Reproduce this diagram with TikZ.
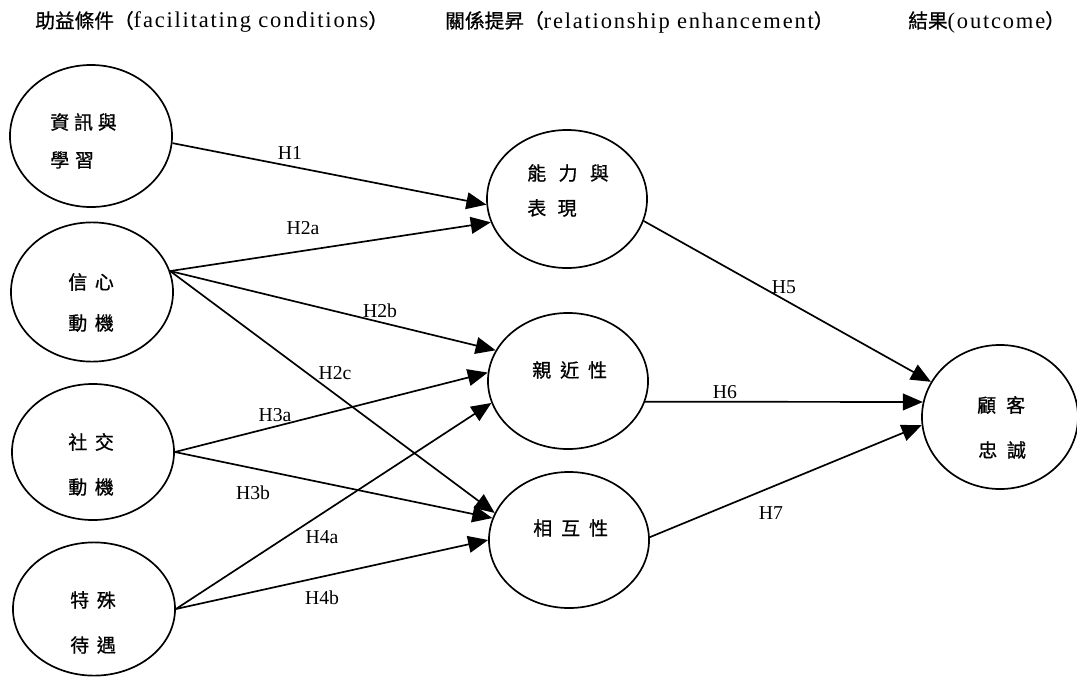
\documentclass[tikz,border=0pt]{standalone}
\usepackage{fontspec}
\setmainfont{Liberation Serif}
\newfontfamily\cjk{Noto Sans CJK TC}[FakeBold=0.8]
\newfontfamily\cjkw{Noto Sans CJK TC}[FakeBold=0.8, LetterSpace=40]
\usetikzlibrary{shapes.geometric, arrows.meta}

\tikzset{
  factor/.style = {ellipse, draw, line width = 1.2pt, minimum width = 4.05cm, minimum height = 3.5cm, inner sep = 0pt},
  word/.style = {anchor = west, inner sep = 0pt, font = \fontsize{13.5}{15}\cjkw},
  hyp/.style = {inner sep = 0pt, font = \fontsize{14}{16}\selectfont},
  head/.style = {anchor = west, inner sep = 0pt, font = \fontsize{16}{18}\selectfont\addfontfeature{LetterSpace=8}},
  link/.style = {line width = 1.2pt, -{Triangle[length = 5mm, width = 4.2mm]}}
}

\begin{document}
\begin{tikzpicture}[x = 0.025cm, y = -0.025cm]
\useasboundingbox (0,0) rectangle (1077,677);

% column headings
\node[head] (hd1) at (35,22) {{\fontsize{14}{16}\cjk 助益條件（}facilitating conditions{\fontsize{14}{16}\cjk ）}};
\node[head] (hd2) at (445,22) {{\fontsize{14}{16}\cjk 關係提昇（}relationship enhancement{\fontsize{14}{16}\cjk ）}};
\node[head] (hd3) at (908,22) {{\fontsize{14}{16}\cjk 結果}(outcome{\fontsize{14}{16}\cjk ）}};

% facilitating conditions
\node[factor, minimum height = 3.55cm] (info) at (91,136) {};
\node[factor, minimum height = 3.48cm] (conf) at (92,292) {};
\node[factor, minimum height = 3.4cm] (soc) at (93,452) {};
\node[factor, minimum height = 3.33cm] (spec) at (94,609) {};

% relationship enhancement
\node[factor, minimum width = 4cm, minimum height = 3.45cm] (comp) at (567,199) {};
\node[factor, minimum width = 4cm, minimum height = 3.4cm] (prox) at (568,381) {};
\node[factor, minimum width = 4cm, minimum height = 3.4cm] (recip) at (569,540) {};

% outcome
\node[factor, minimum width = 3.9cm, minimum height = 3.6cm] (loyal) at (1000,417) {};

\node[word] (info-a) at (50,122) {{\addfontfeature{LetterSpace=25}資訊與}};
\node[word] (info-b) at (50,160) {{\addfontfeature{LetterSpace=30}學習}};
\node[word] (conf-a) at (68,282) {信心};
\node[word] (conf-b) at (68,323) {動機};
\node[word] (soc-a) at (68,442) {社交};
\node[word] (soc-b) at (68,487) {動機};
\node[word] (spec-a) at (70,600) {特殊};
\node[word] (spec-b) at (70,645) {待遇};
\node[word] (comp-a) at (527,173) {{\addfontfeature{LetterSpace=65}能力與}};
\node[word] (comp-b) at (527,208) {{\addfontfeature{LetterSpace=60}表現}};
\node[word] (prox-a) at (532,370) {{\addfontfeature{LetterSpace=47}親近性}};
\node[word] (recip-a) at (533,528) {{\addfontfeature{LetterSpace=47}相互性}};
\node[word] (loyal-a) at (977,405) {{\addfontfeature{LetterSpace=52}顧客}};
\node[word] (loyal-b) at (978,450) {{\addfontfeature{LetterSpace=52}忠誠}};

\draw[link] (info.-5.6) -- (comp.184);
\draw[link] (conf.15) -- (comp.197);
\draw[link] (conf.15) -- (prox.157);
\draw[link] (conf.15) -- (recip.160);
\draw[link] (soc.0) -- (prox.174);
\draw[link] (soc.0) -- (recip.164);
\draw[link] (spec.0) -- (prox.196);
\draw[link] (spec.0) -- (recip.180);
\draw[link] (comp.-16) -- (loyal.153);
\draw[link] (prox.-15) -- (loyal.169);
\draw[link] (recip.2) -- (loyal.186);

\node[hyp] (h1) at (290,153) {H1};
\node[hyp] (h2a) at (303,228) {H2a};
\node[hyp] (h2b) at (380,311) {H2b};
\node[hyp] (h2c) at (335,373) {H2c};
\node[hyp] (h3a) at (275,415) {H3a};
\node[hyp] (h3b) at (253,493) {H3b};
\node[hyp] (h4a) at (322,537) {H4a};
\node[hyp] (h4b) at (322,598) {H4b};
\node[hyp] (h5) at (784,287) {H5};
\node[hyp] (h6) at (725,392) {H6};
\node[hyp] (h7) at (771,513) {H7};
\end{tikzpicture}
\end{document}
